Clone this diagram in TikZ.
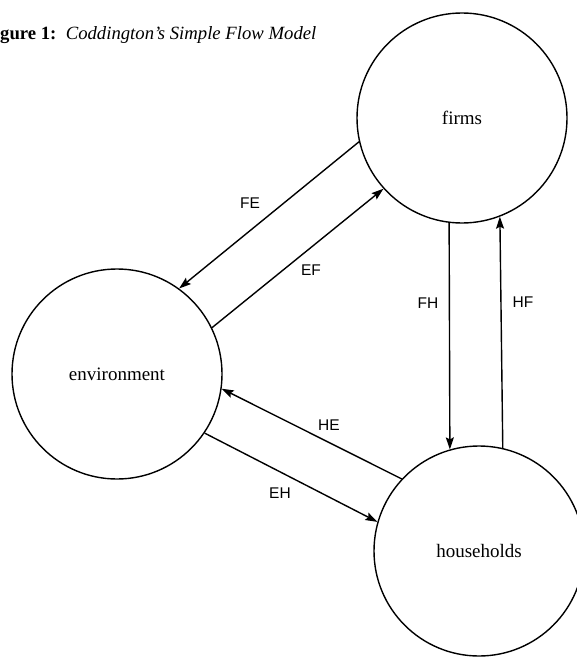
\documentclass[tikz,border=0pt]{standalone}
\usepackage{fontspec}
\setmainfont{Liberation Serif}
\newfontfamily\labfont{Liberation Sans}
\usetikzlibrary{arrows.meta}
\begin{document}
\begin{tikzpicture}[x=1pt,y=-1pt,
  sector/.style={circle, draw, line width=1.4pt, minimum size=210pt, inner sep=0pt, font=\fontsize{19}{22}\selectfont},
  flow/.style={line width=1.4pt, -{Stealth[length=12pt,width=8pt,inset=2pt]}},
  flowlab/.style={font=\labfont\fontsize{15.5}{18}\selectfont, inner sep=0pt}]
\useasboundingbox (0,0) rectangle (577,658);
\node[anchor=base west, inner sep=0pt, font=\fontsize{18.7}{22}\selectfont] (title) at (0,40)
  {\textbf{gure 1:}\enspace\textit{Coddington's Simple Flow Model}};
\node[sector] (firms) at (462,118) {firms};
\node[sector] (env) at (117,374) {environment};
\node[sector] (hh) at (479,551) {households};
\draw[flow] (firms.193) -- (env.54);
\draw[flow] (env.26) -- (firms.222);
\draw[flow] (firms.263.4) -- (hh.106.2);
\draw[flow] (hh.77.8) -- (firms.291.8);
\draw[flow] (hh.137) -- (env.352);
\draw[flow] (env.326) -- (hh.164);
\node[flowlab] (lFE) at (250,203) {FE};
\node[flowlab] (lEF) at (311,270) {EF};
\node[flowlab] (lFH) at (428,303) {FH};
\node[flowlab] (lHF) at (523,302) {HF};
\node[flowlab] (lHE) at (329,425) {HE};
\node[flowlab] (lEH) at (280,493) {EH};
\end{tikzpicture}
\end{document}
